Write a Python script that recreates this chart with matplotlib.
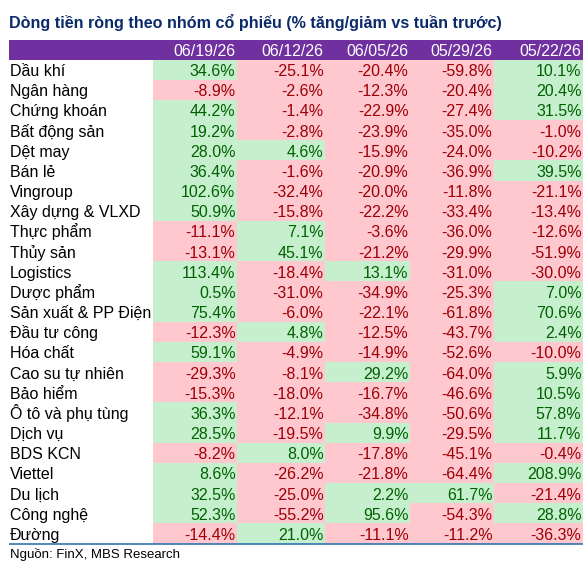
import matplotlib.pyplot as plt
from matplotlib.patches import Rectangle

plt.rcParams['font.family'] = ['Liberation Sans', 'DejaVu Sans']

title = "Dòng tiền ròng theo nhóm cổ phiếu (% tăng/giảm vs tuần trước)"
source = "Nguồn: FinX, MBS Research"

weeks = ["06/19/26", "06/12/26", "06/05/26", "05/29/26", "05/22/26"]

sectors = [
    "Dầu khí", "Ngân hàng", "Chứng khoán", "Bất động sản", "Dệt may", "Bán lẻ",
    "Vingroup", "Xây dựng & VLXD", "Thực phẩm", "Thủy sản", "Logistics",
    "Dược phẩm", "Sản xuất & PP Điện", "Đầu tư công", "Hóa chất",
    "Cao su tự nhiên", "Bảo hiểm", "Ô tô và phụ tùng", "Dịch vụ", "BDS KCN",
    "Viettel", "Du lịch", "Công nghệ", "Đường",
]

w0619 = [34.6, -8.9, 44.2, 19.2, 28.0, 36.4, 102.6, 50.9, -11.1, -13.1, 113.4, 0.5,
         75.4, -12.3, 59.1, -29.3, -15.3, 36.3, 28.5, -8.2, 8.6, 32.5, 52.3, -14.4]
w0612 = [-25.1, -2.6, -1.4, -2.8, 4.6, -1.6, -32.4, -15.8, 7.1, 45.1, -18.4, -31.0,
         -6.0, 4.8, -4.9, -8.1, -18.0, -12.1, -19.5, 8.0, -26.2, -25.0, -55.2, 21.0]
w0605 = [-20.4, -12.3, -22.9, -23.9, -15.9, -20.9, -20.0, -22.2, -3.6, -21.2, 13.1, -34.9,
         -22.1, -12.5, -14.9, 29.2, -16.7, -34.8, 9.9, -17.8, -21.8, 2.2, 95.6, -11.1]
w0529 = [-59.8, -20.4, -27.4, -35.0, -24.0, -36.9, -11.8, -33.4, -36.0, -29.9, -31.0, -25.3,
         -61.8, -43.7, -52.6, -64.0, -46.6, -50.6, -29.5, -45.1, -64.4, 61.7, -54.3, -11.2]
w0522 = [10.1, 20.4, 31.5, -1.0, -10.2, 39.5, -21.1, -13.4, -12.6, -51.9, -30.0, 7.0,
         70.6, 2.4, -10.0, 5.9, 10.5, 57.8, 11.7, -0.4, 208.9, -21.4, 28.8, -36.3]
columns = [w0619, w0612, w0605, w0529, w0522]

# layout (pixel coordinates)
W, H = 583, 567
col_edges = [153, 237, 325, 410, 494, 583]
left = 9
head_top, head_bot = 39.5, 59.5
row_h = 20.17

pos_fill, pos_txt = "#C6EFCE", "#006100"
neg_fill, neg_txt = "#FFC7CE", "#9C0006"

fig = plt.figure(figsize=(W / 100, H / 100), dpi=100)
ax = fig.add_axes([0, 0, 1, 1])
ax.set_xlim(0, W)
ax.set_ylim(H, 0)
ax.axis("off")

ax.text(left, 28, title, fontsize=11.6, fontweight="bold", color="#0B2A6B",
        ha="left", va="baseline")

# header band
ax.add_patch(Rectangle((left, head_top), W - left, head_bot - head_top,
                       facecolor="#7030A0", edgecolor="none"))
for j, wk in enumerate(weeks):
    ax.text(col_edges[j + 1] - 1.5, head_bot - 3, wk, fontsize=11.5, color="white",
            ha="right", va="baseline")

for i, name in enumerate(sectors):
    top = head_bot + i * row_h
    ax.text(10, top + 16.5, name, fontsize=11.5, color="black", ha="left", va="baseline")
    for j, col in enumerate(columns):
        v = col[i]
        fill, tc = (pos_fill, pos_txt) if v >= 0 else (neg_fill, neg_txt)
        x0, x1 = col_edges[j], col_edges[j + 1]
        ax.add_patch(Rectangle((x0, top), x1 - x0, row_h + 0.2,
                               facecolor=fill, edgecolor="none"))
        ax.text(x1 - 1.5, top + 16.5, f"{v:.1f}%", fontsize=11.5, color=tc,
                ha="right", va="baseline")

bottom = head_bot + len(sectors) * row_h
ax.plot([left, W], [bottom, bottom], color="#2E75B6", lw=1.2, solid_capstyle="butt")

ax.text(10, 558, source, fontsize=9.5, color="black", ha="left", va="baseline")

fig.savefig("out.png", dpi=100)
